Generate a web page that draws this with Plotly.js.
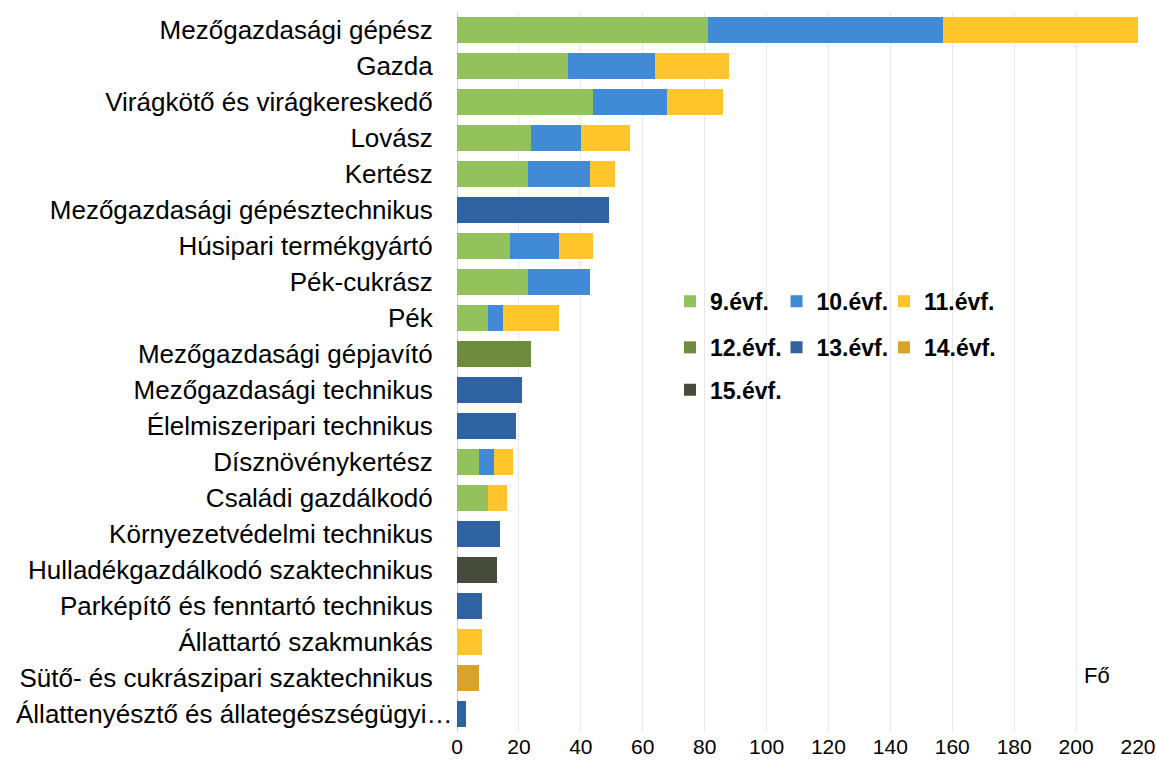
<!DOCTYPE html>
<html>
<head>
<meta charset="utf-8">
<script src="https://cdn.plot.ly/plotly-3.0.1.min.js"></script>
<style>html,body{margin:0;padding:0;background:#fff;}#chart{width:1156px;height:771px;}</style>
</head>
<body>
<div id="chart"></div>
<script>
var categories = [
  "Mezőgazdasági gépész",
  "Gazda",
  "Virágkötő és virágkereskedő",
  "Lovász",
  "Kertész",
  "Mezőgazdasági gépésztechnikus",
  "Húsipari termékgyártó",
  "Pék-cukrász",
  "Pék",
  "Mezőgazdasági gépjavító",
  "Mezőgazdasági technikus",
  "Élelmiszeripari technikus",
  "Dísznövénykertész",
  "Családi gazdálkodó",
  "Környezetvédelmi technikus",
  "Hulladékgazdálkodó szaktechnikus",
  "Parképítő és fenntartó technikus",
  "Állattartó szakmunkás",
  "Sütő- és cukrászipari szaktechnikus",
  "Állattenyésztő és állategészségügyi…"
];
var seriesNames = ["9.évf.", "10.évf.", "11.évf.", "12.évf.", "13.évf.", "14.évf.", "15.évf."];
var evf9  = [81, 36, 44, 24, 23, 0, 17, 23, 10, 0, 0, 0, 7, 10, 0, 0, 0, 0, 0, 0];
var evf10 = [76, 28, 24, 16, 20, 0, 16, 20, 5, 0, 0, 0, 5, 0, 0, 0, 0, 0, 0, 0];
var evf11 = [63, 24, 18, 16, 8, 0, 11, 0, 18, 0, 0, 0, 6, 6, 0, 0, 0, 8, 0, 0];
var evf12 = [0, 0, 0, 0, 0, 0, 0, 0, 0, 24, 0, 0, 0, 0, 0, 0, 0, 0, 0, 0];
var evf13 = [0, 0, 0, 0, 0, 49, 0, 0, 0, 0, 21, 19, 0, 0, 14, 0, 8, 0, 0, 3];
var evf14 = [0, 0, 0, 0, 0, 0, 0, 0, 0, 0, 0, 0, 0, 0, 0, 0, 0, 0, 7, 0];
var evf15 = [0, 0, 0, 0, 0, 0, 0, 0, 0, 0, 0, 0, 0, 0, 0, 13, 0, 0, 0, 0];
var xTicks = [0, 20, 40, 60, 80, 100, 120, 140, 160, 180, 200, 220];

var seriesValues = [evf9, evf10, evf11, evf12, evf13, evf14, evf15];
var colors = ["#93c15b", "#418ad6", "#ffc52b", "#6e8c3e", "#2f62a0", "#d9a22b", "#464b3c"];
var legendIds = ["legend", "legend2", "legend3", "legend4", "legend5", "legend6", "legend7"];

var traces = seriesNames.map(function (name, i) {
  return {
    type: "bar",
    orientation: "h",
    name: name,
    y: categories,
    x: seriesValues[i],
    marker: { color: colors[i], line: { width: 0 } },
    legend: legendIds[i],
    hoverinfo: "name+x"
  };
});

var lastIdx = categories.length - 1;
var tickLabels = categories.map(function (c, i) { return i === lastIdx ? "" : c; });

function mkLegend(x, y) {
  return {
    orientation: "h",
    xref: "paper",
    yref: "paper",
    x: x,
    y: y,
    xanchor: "left",
    yanchor: "top",
    bgcolor: "rgba(0,0,0,0)",
    borderwidth: 0,
    itemwidth: 30,
    font: { family: "Liberation Sans, Arial, sans-serif", size: 23, color: "#000", weight: "bold" }
  };
}
var colX = [0.3128, 0.4692, 0.6270];
var rowY = [0.628, 0.564, 0.505];

var layout = {
  width: 1156,
  height: 771,
  margin: { l: 457, r: 18, t: 12, b: 39, pad: 0 },
  paper_bgcolor: "#fff",
  plot_bgcolor: "#fff",
  barmode: "stack",
  bargap: 0.28,
  font: { family: "Liberation Sans, Arial, sans-serif", size: 20, color: "#000" },
  xaxis: {
    range: [0, 220],
    tickvals: xTicks,
    ticktext: xTicks.map(String),
    ticklabeloverflow: "allow",
    showgrid: true,
    gridcolor: "#e8e8e8",
    gridwidth: 1,
    zeroline: true,
    zerolinecolor: "#d0d0d0",
    zerolinewidth: 1,
    showline: false,
    ticks: "",
    tickfont: { size: 21, color: "#000" },
    fixedrange: true
  },
  yaxis: {
    autorange: "reversed",
    type: "category",
    tickmode: "array",
    tickvals: categories,
    ticktext: tickLabels,
    showgrid: false,
    zeroline: false,
    showline: false,
    ticks: "outside",
    ticklen: 18,
    tickcolor: "rgba(0,0,0,0)",
    tickfont: { size: 26, color: "#000" },
    automargin: false,
    fixedrange: true
  },
  showlegend: true,
  legend: mkLegend(colX[0], rowY[0]),
  legend2: mkLegend(colX[1], rowY[0]),
  legend3: mkLegend(colX[2], rowY[0]),
  legend4: mkLegend(colX[0], rowY[1]),
  legend5: mkLegend(colX[1], rowY[1]),
  legend6: mkLegend(colX[2], rowY[1]),
  legend7: mkLegend(colX[0], rowY[2]),
  annotations: [
    {
      text: categories[lastIdx],
      xref: "paper", yref: "y",
      x: 0, y: categories[lastIdx],
      xanchor: "right", yanchor: "middle",
      xshift: -3,
      showarrow: false,
      font: { size: 26, color: "#000" }
    },
    {
      text: "Fő",
      xref: "paper", yref: "paper",
      x: 0.94, y: 0.078,
      showarrow: false,
      xanchor: "center", yanchor: "middle",
      font: { size: 22, color: "#000" }
    }
  ]
};

Plotly.newPlot("chart", traces, layout, { displayModeBar: false, staticPlot: true });
</script>
</body>
</html>
